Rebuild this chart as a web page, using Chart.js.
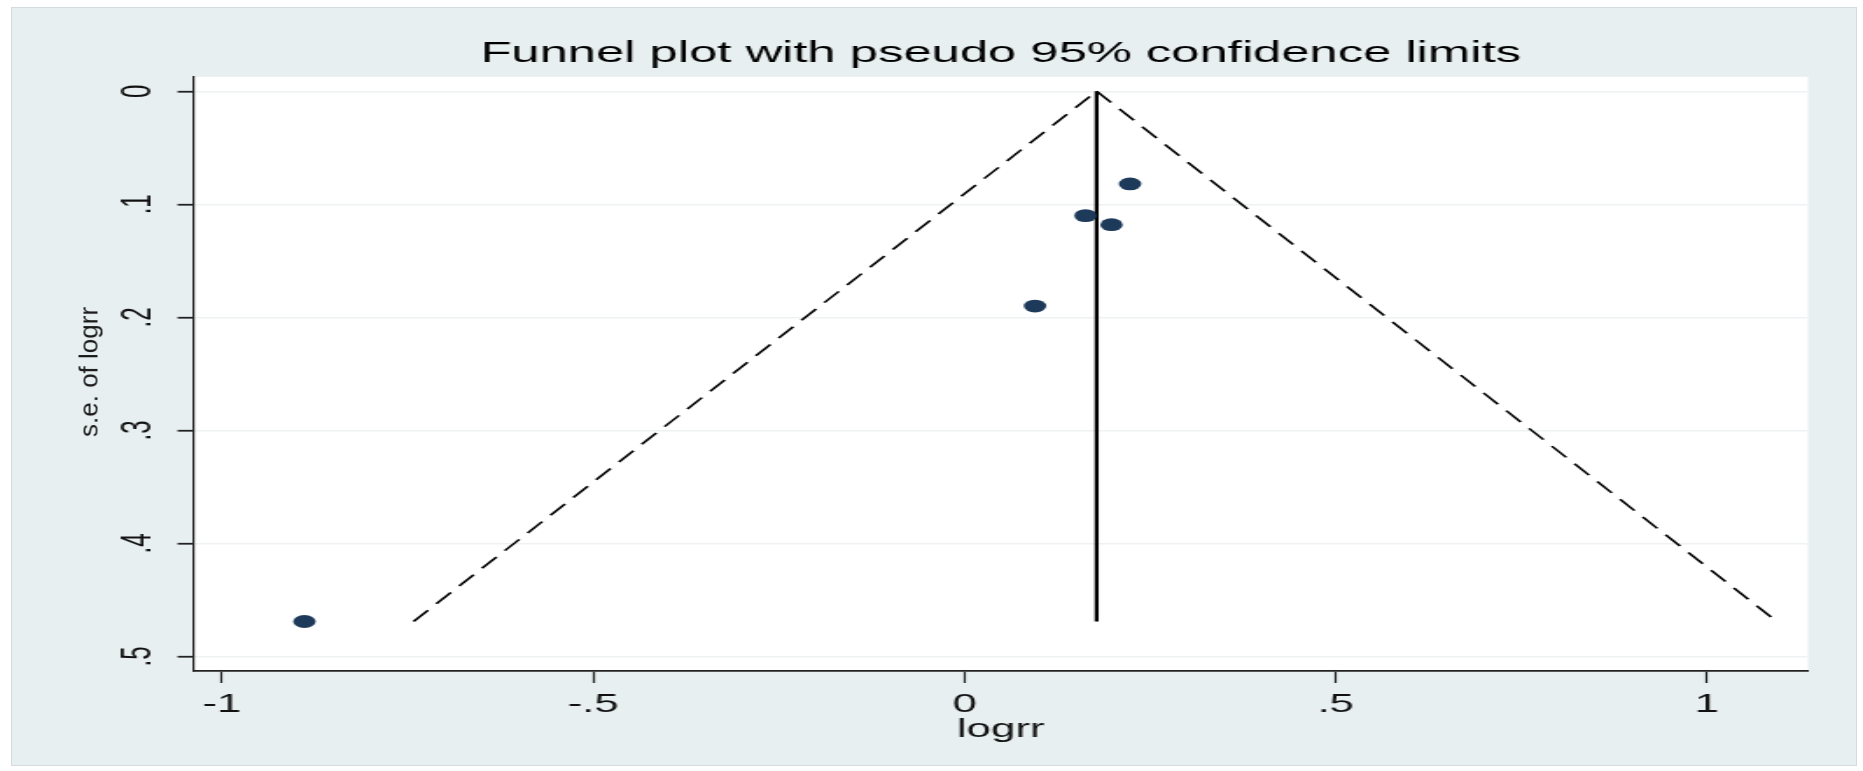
<!DOCTYPE html>
<html>
<head>
<meta charset="utf-8">
<script src="https://cdn.jsdelivr.net/npm/chart.js@4.4.1/dist/chart.umd.min.js"></script>
<style>
  html, body { margin: 0; padding: 0; background: #fff; }
  #graph { position: relative; width: 1863px; height: 771px; overflow: hidden; }
  #frame { position: absolute; left: 11px; top: 7px; width: 1844px; height: 757px;
           background: #e8eff1; border: 1px solid #d3dbde; }
  /* the whole graph is drawn narrow and widened, like the exported Stata graph */
  #stretch { position: absolute; left: 0; top: 0; width: 1065px; height: 771px;
             transform: scaleX(1.7493); transform-origin: 0 0; }
  #ytitle { position: absolute; left: 89px; top: 372px;
            transform: translate(-50%, -50%) rotate(-90deg);
            font: 26px "Liberation Sans", Arial, sans-serif; color: #1a1a1a; white-space: nowrap; }
</style>
</head>
<body>
<div id="graph">
  <div id="frame"></div>
  <div id="stretch"><canvas id="funnel" width="1065" height="771"></canvas></div>
  <div id="ytitle">s.e. of logrr</div>
</div>
<script>
// studies
var logrr = [0.223, 0.163, 0.198, 0.095, -0.889];
var seLogrr = [0.082, 0.110, 0.118, 0.190, 0.469];

// pooled estimate and pseudo 95% limits
var pooledX = [0.178, 0.178];
var pooledSe = [0, 0.469];
var lowerLimitX = [-0.742, 0.178];
var lowerLimitSe = [0.469, 0];
var upperLimitX = [0.178, 1.094];
var upperLimitSe = [0, 0.469];

var xTicks = [-1, -0.5, 0, 0.5, 1];
var xTickLabels = ['-1', '-.5', '0', '.5', '1'];
var yTicks = [0, 0.1, 0.2, 0.3, 0.4, 0.5];
var yTickLabels = ['0', '.1', '.2', '.3', '.4', '.5'];

var FONT = '"Liberation Sans", Arial, sans-serif';

function toPoints(xs, ys) {
    return xs.map(function(x, i) { return { x: x, y: ys[i] }; });
}

var plotBackground = {
    id: 'plotBackground',
    beforeDraw: function(chart) {
        var a = chart.chartArea;
        var ctx = chart.ctx;
        ctx.save();
        ctx.fillStyle = '#ffffff';
        ctx.fillRect(a.left, a.top, a.right - a.left, a.bottom - a.top);
        ctx.restore();
    }
};

var limitLine = {
    showLine: true,
    borderColor: '#000000',
    borderWidth: 1.6,
    borderDash: [14, 8],
    pointRadius: 0,
    fill: false,
    order: 2
};

var config = {
    type: 'scatter',
    data: {
        datasets: [
            {
                label: 'studies',
                data: toPoints(logrr, seLogrr),
                pointRadius: 6.4,
                pointBackgroundColor: '#1e3a5a',
                pointBorderWidth: 0,
                order: 0
            },
            Object.assign({ label: 'lower', data: toPoints(lowerLimitX, lowerLimitSe) }, limitLine),
            Object.assign({ label: 'upper', data: toPoints(upperLimitX, upperLimitSe) }, limitLine),
            {
                label: 'pooled',
                data: toPoints(pooledX, pooledSe),
                showLine: true,
                borderColor: '#000000',
                borderWidth: 2.3,
                pointRadius: 0,
                order: 1
            }
        ]
    },
    options: {
        responsive: false,
        devicePixelRatio: 1,
        animation: false,
        layout: {
            padding: { left: 0, right: 31.5, top: 0, bottom: 0 }
        },
        plugins: {
            legend: { display: false },
            tooltip: { enabled: false },
            title: {
                display: true,
                fullSize: false,
                text: 'Funnel plot with pseudo 95% confidence limits',
                color: '#000000',
                font: { family: FONT, size: 29, weight: 'normal' },
                padding: { top: 37, bottom: 5 }
            }
        },
        scales: {
            x: {
                type: 'linear',
                position: 'bottom',
                min: -1.0384,
                max: 1.136,
                afterBuildTicks: function(scale) {
                    scale.ticks = xTicks.map(function(v) { return { value: v }; });
                },
                afterFit: function(scale) { scale.height = 100; },
                ticks: {
                    autoSkip: false,
                    maxRotation: 0,
                    padding: 7,
                    color: '#111111',
                    font: { family: FONT, size: 25 },
                    callback: function(value) { return xTickLabels[xTicks.indexOf(value)]; }
                },
                grid: {
                    drawOnChartArea: false,
                    tickLength: 12,
                    tickWidth: 1.2,
                    tickColor: '#222222'
                },
                border: { color: '#222222', width: 1.8 },
                title: {
                    display: true,
                    text: 'logrr',
                    color: '#111111',
                    font: { family: FONT, size: 25 },
                    padding: { top: 0, bottom: 26 }
                }
            },
            y: {
                type: 'linear',
                reverse: true,
                min: -0.0128,
                max: 0.5128,
                afterBuildTicks: function(scale) {
                    scale.ticks = yTicks.map(function(v) { return { value: v }; });
                },
                afterFit: function(scale) { scale.width = 110.6; },
                ticks: {
                    minRotation: 90,
                    maxRotation: 90,
                    crossAlign: 'center',
                    padding: 12.5,
                    color: '#111111',
                    font: { family: FONT, size: 24 },
                    callback: function(value) { return yTickLabels[yTicks.indexOf(value)]; }
                },
                grid: {
                    color: '#eef2f3',
                    lineWidth: 1.5,
                    tickLength: 9.1,
                    tickWidth: 1.8,
                    tickColor: '#222222'
                },
                border: { color: '#222222', width: 1.2 }
            }
        }
    },
    plugins: [plotBackground]
};

window.onload = function() {
    var ctx = document.getElementById('funnel').getContext('2d');
    window.funnelChart = new Chart(ctx, config);
};
</script>
</body>
</html>
